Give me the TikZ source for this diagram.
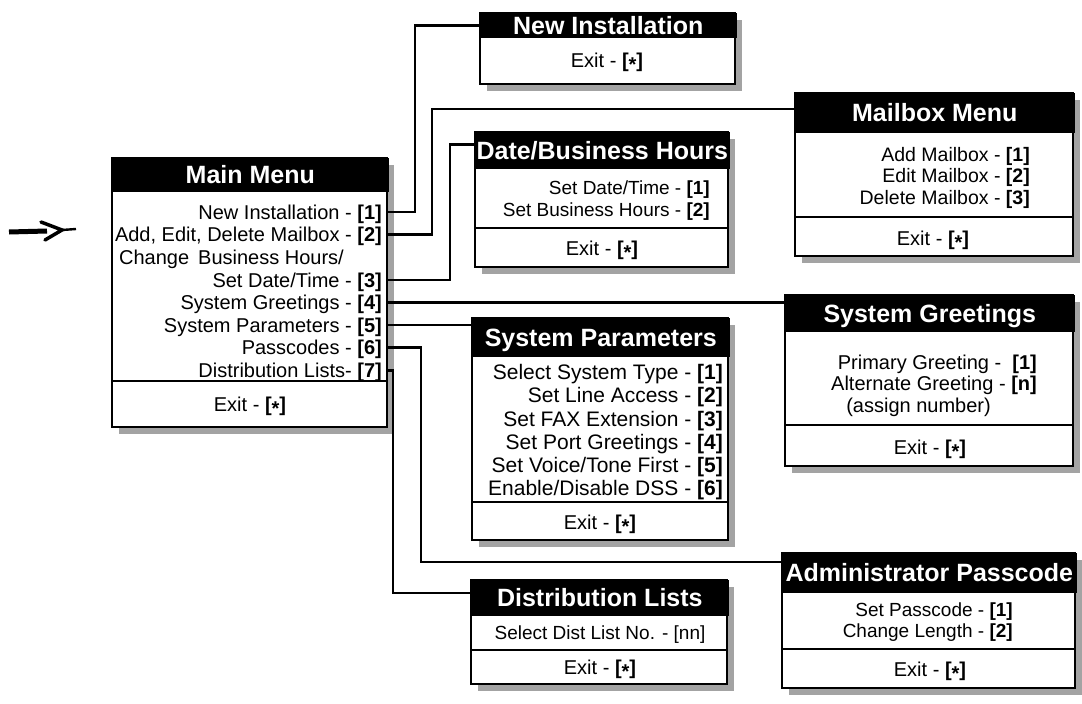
\documentclass[tikz,border=0pt]{standalone}
\usepackage{fontspec}
\setmainfont{Liberation Sans}
\usetikzlibrary{calc}

% bold key numbers and the centred star of the exit key
\newcommand\keynum[1]{\textbf{#1}}
\newcommand\exitkey{\textbf{[\raisebox{-0.22em}{*}]}}
% fixed blank space kept at the end of a right-aligned line
\newcommand\trailgap[1]{\rule{#1}{0pt}}

\tikzset{
  boxframe/.style={draw=black, line width=1.8pt, fill=white},
  boxshade/.style={fill=black!36},
  titlebar/.style={fill=black, draw=black, line width=1.6pt, text=white,
    font=\fontsize{25}{25}\selectfont\bfseries, inner sep=0pt,
    text height=18pt, text depth=0pt, anchor=north west},
  rowrule/.style={draw=black, line width=1.5pt},
  itemlist/.style={font=\fontsize{20}{22.6}\selectfont, align=right,
    inner sep=0pt, anchor=north east},
  exitlabel/.style={font=\fontsize{20}{22}\selectfont, inner sep=0pt,
    text height=14pt, text depth=0pt},
  conn/.style={draw=black, line width=2.6pt},
}

% menu box: name, left, top, right, title bottom, separator, bottom, title
\newcommand\menubox[8]{%
  \fill[boxshade] (#2+7,#3+7) rectangle (#4+7,#7+7);
  \draw[boxframe] (#2,#3) rectangle (#4,#7);
  \node[titlebar, minimum width=#4-#2, minimum height=#5-#3] (#1) at (#2,#3) {#8};
  \draw[rowrule] (#2,#6) -- (#4,#6);
}

\begin{document}
\begin{tikzpicture}[x=1pt,y=-1pt]
\useasboundingbox (0,0) rectangle (1082,704);

% ---------- entry arrow ----------
\coordinate (entry-tail) at (9,232);
\coordinate (entry-tip) at (62,230);
\draw[line width=5pt] (entry-tail) -- ($(entry-tip)+(-15,1)$);
\draw[line width=3.5pt, line join=miter, line cap=round] ($(entry-tip)+(-21,-8)$) -- (entry-tip) -- ($(entry-tip)+(-17,10)$);
\draw[line width=2.4pt] (entry-tip) -- ++(14,-1);

% ---------- main menu ----------
\menubox{mm}{112}{158}{387}{190}{381}{427}{Main Menu}
\node[itemlist] (mm-list) at (382,204.6) {%
  New Installation - \keynum{[1]}\\
  Add, Edit, Delete Mailbox - \keynum{[2]}\\
  Change\hspace{9pt}Business Hours/\trailgap{38pt}\\
  Set Date/Time - \keynum{[3]}\\
  System Greetings - \keynum{[4]}\\
  System Parameters - \keynum{[5]}\\
  Passcodes - \keynum{[6]}\\
  Distribution Lists- \keynum{[7]}};
\node[exitlabel] (mm-exit) at (250,404) {Exit - \exitkey};

% exits of the main menu rows
\coordinate (p1) at (387,212);
\coordinate (p2) at (387,234.6);
\coordinate (p3) at (387,279.8);
\coordinate (p4) at (387,302.4);
\coordinate (p5) at (387,325);
\coordinate (p6) at (387,347.6);
\coordinate (p7) at (387,370.2);

% ---------- sub menus ----------
\menubox{ni}{480}{13}{735}{36}{36}{84}{New Installation}
\node[exitlabel] (ni-exit) at (607,60) {Exit - \exitkey};

\menubox{db}{475}{132}{728}{167}{228}{267}{Date/Business Hours}
\node[itemlist, font=\fontsize{19}{22}\selectfont] (db-list) at (710,181) {%
  Set Date/Time - \keynum{[1]}\\
  Set Business Hours - \keynum{[2]}};
\node[exitlabel] (db-exit) at (602,248) {Exit - \exitkey};

\menubox{mb}{795}{93}{1073}{131}{217}{256}{Mailbox Menu}
\node[itemlist, font=\fontsize{19.5}{21.5}\selectfont] (mb-list) at (1030,147) {%
  Add Mailbox - \keynum{[1]}\\
  Edit Mailbox - \keynum{[2]}\\
  Delete Mailbox - \keynum{[3]}};
\node[exitlabel] (mb-exit) at (933,238) {Exit - \exitkey};

\menubox{sg}{785}{295}{1073}{330}{425}{466}{System Greetings}
\node[itemlist, font=\fontsize{20}{21.5}\selectfont] (sg-list) at (1037,354.6) {%
  Primary Greeting -\ \ \keynum{[1]}\\
  Alternate Greeting - \keynum{[n]}\\
  (assign number)\trailgap{46pt}};
\node[exitlabel] (sg-exit) at (930,447) {Exit - \exitkey};

\menubox{sp}{472}{318}{728}{355}{502}{540}{System Parameters}
\node[itemlist, font=\fontsize{21}{23.2}\selectfont] (sp-list) at (723,364.2) {%
  Select System Type - \keynum{[1]}\\
  Set Line Access - \keynum{[2]}\\
  Set FAX Extension - \keynum{[3]}\\
  Set Port Greetings - \keynum{[4]}\\
  Set Voice/Tone First - \keynum{[5]}\\
  Enable/Disable DSS - \keynum{[6]}};
\node[exitlabel] (sp-exit) at (600,522) {Exit - \exitkey};

\menubox{ap}{782}{553}{1075}{591}{649}{688}{Administrator Passcode}
\node[itemlist, font=\fontsize{19}{21}\selectfont] (ap-list) at (1013,603) {%
  Set Passcode - \keynum{[1]}\\
  Change Length - \keynum{[2]}};
\node[exitlabel] (ap-exit) at (930,669) {Exit - \exitkey};

\menubox{dl}{471}{580}{727}{614}{650}{684}{Distribution Lists}
\node[exitlabel, font=\fontsize{19}{22}\selectfont] (dl-item) at (600,632) {Select Dist List No. - [nn]};
\node[exitlabel] (dl-exit) at (600,667) {Exit - \exitkey};

% ---------- connectors ----------
\draw[conn] (p1) -- ++(28,0) |- (ni.west);
\draw[conn] (p2) -- ++(45,0) |- ([yshift=4pt]mb.west);
\draw[conn] (p3) -- ++(63,0) |- ([yshift=6pt]db.west);
\draw[conn] (p4) -- (p4 -| sg.west);
\draw[conn] (p5) -- (p5 -| sp.west);
\draw[conn] (p6) -- ++(34,0) |- ([yshift=11pt]ap.west);
\draw[conn] (p7) -- ++(6,0) |- ([yshift=5pt]dl.west);
\end{tikzpicture}
\end{document}
